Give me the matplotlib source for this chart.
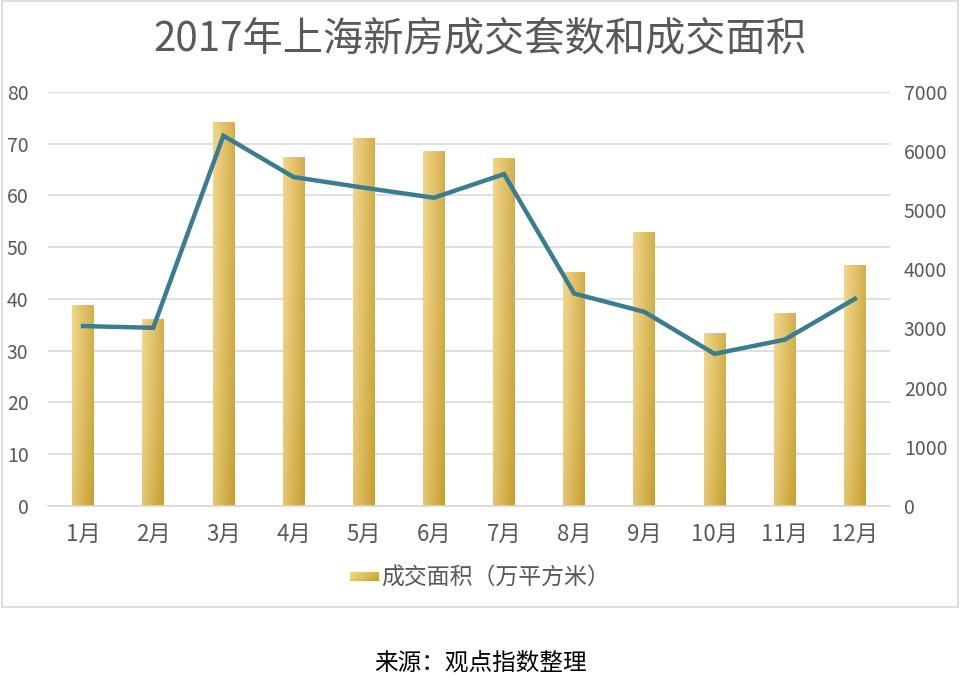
import numpy as np
import matplotlib
matplotlib.use('Agg')
import matplotlib.pyplot as plt
import matplotlib.patches as mpatches
import matplotlib.image as mimage
import matplotlib.transforms as mtrans
from matplotlib.legend_handler import HandlerBase

plt.rcParams['font.family'] = ['Noto Sans CJK SC', 'DejaVu Sans']

# data
months    = ['1月', '2月', '3月', '4月', '5月', '6月', '7月', '8月', '9月', '10月', '11月', '12月']
area      = [38.8, 36.1, 74.2, 67.4, 71.1, 68.6, 67.2, 45.2, 52.9, 33.4, 37.3, 46.6]
units     = [3040, 3010, 6260, 5560, 5380, 5210, 5610, 3590, 3280, 2570, 2810, 3500]
left_ticks  = [0, 10, 20, 30, 40, 50, 60, 70, 80]
right_ticks = [0, 1000, 2000, 3000, 4000, 5000, 6000, 7000]

title   = '2017年上海新房成交套数和成交面积'
legend  = '成交面积（万平方米）'
source  = '来源：观点指数整理'

text_c  = '#595959'
grid_c  = '#D9D9D9'
line_c  = '#3A7D91'
light   = np.array([0xF1, 0xD6, 0x8C]) / 255
dark    = np.array([0xC6, 0x9E, 0x2E]) / 255

fig = plt.figure(figsize=(9.6, 6.91), dpi=100)
fig.patches.append(mpatches.Rectangle((0.002, 0.121), 0.996, 0.877, transform=fig.transFigure,
                                      fill=False, edgecolor=grid_c, lw=1.2))

ax = fig.add_axes([0.05, 0.268, 0.877, 0.599])
ax2 = ax.twinx()

# diagonal gradient: light top-left -> dark bottom-right
gx, gy = np.meshgrid(np.linspace(0, 1, 40), np.linspace(0, 1, 200))
t = np.clip(0.7 * gx + 0.3 * gy ** 2, 0, 1)[..., None]
grad = light * (1 - t) + dark * t

x = np.arange(len(months))
w = 0.31
bars = ax.bar(x, area, width=w, color='none', edgecolor='none', zorder=2)
for b in bars:
    x0, y0 = b.get_x(), b.get_y()
    im = ax.imshow(grad, extent=(x0, x0 + b.get_width(), y0, y0 + b.get_height()),
                   origin='upper', aspect='auto', zorder=2)
    im.set_clip_path(b)

ax2.plot(x, units, color=line_c, lw=3.2, solid_joinstyle='miter', zorder=3)

ax.set_xlim(-0.5, len(months) - 0.5)
ax.set_ylim(0, 80)
ax2.set_ylim(0, 7000)
ax.set_yticks(left_ticks)
ax2.set_yticks(right_ticks)
ax.set_xticks(x)
ax.set_xticklabels(months)

ax.grid(axis='y', color=grid_c, lw=1.2, zorder=0)
ax.set_axisbelow(True)
for a in (ax, ax2):
    for s in a.spines.values():
        s.set_visible(False)
    a.tick_params(length=0, labelsize=14, colors=text_c)
ax.spines['bottom'].set_visible(True)
ax.spines['bottom'].set_color(grid_c)
ax.spines['bottom'].set_linewidth(1.2)
ax.tick_params(axis='x', pad=12, labelsize=16)
ax.tick_params(axis='y', pad=14)
ax2.tick_params(axis='y', pad=10)
ax.patch.set_visible(False)
ax2.set_zorder(ax.get_zorder() + 1)
ax2.patch.set_visible(False)

fig.text(0.5, 0.943, title, ha='center', va='center', fontsize=29, color=text_c)


class GradHandler(HandlerBase):
    def create_artists(self, legend, orig, xd, yd, width, height, fontsize, trans):
        h = height * 0.55
        im = mimage.BboxImage(
            mtrans.TransformedBbox(mtrans.Bbox.from_bounds(xd, yd + (height - h) / 2, width, h), trans),
            interpolation='bilinear')
        im.set_data(grad)
        return [im]


proxy = mpatches.Patch()
fig.legend([proxy], [legend], handler_map={mpatches.Patch: GradHandler()},
           loc='center', bbox_to_anchor=(0.5, 0.163), frameon=False,
           fontsize=16.5, labelcolor=text_c, handlelength=1.25, handletextpad=0.1)

fig.text(0.5, 0.04, source, ha='center', va='center', fontsize=17, color='black', fontweight='medium')

fig.savefig('out.png', dpi=100)
